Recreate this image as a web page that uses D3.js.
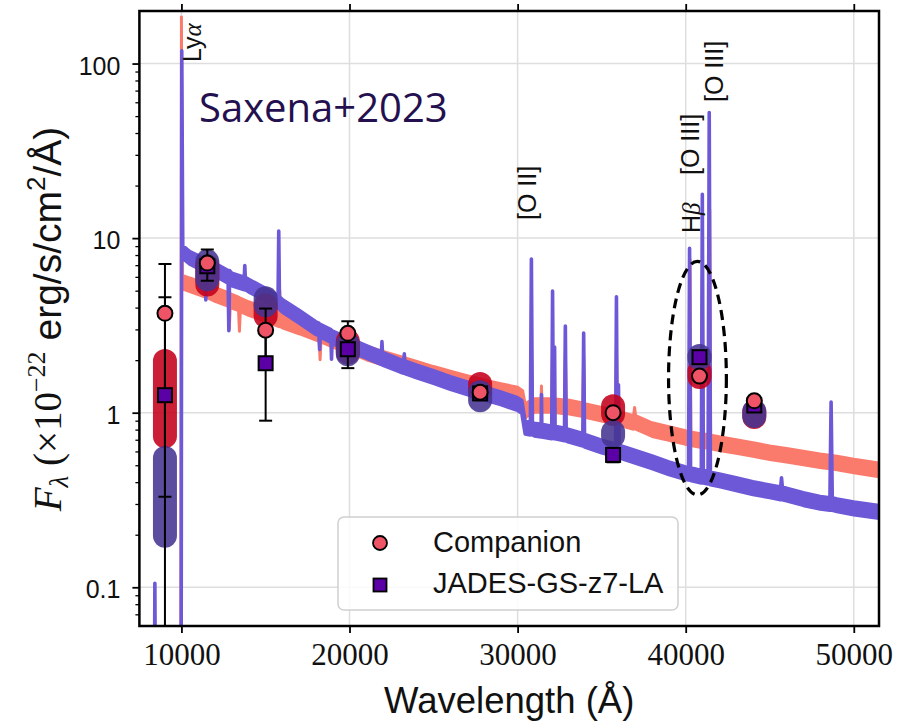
<!DOCTYPE html>
<html><head><meta charset="utf-8">
<script src="https://cdn.jsdelivr.net/npm/d3@7"></script>
<style>body{margin:0;background:#fff;} svg{display:block;}</style>
</head><body>
<script>
// ---------------- DATA ----------------
const companionWave = [7500,9960,10000,10060,10500,11000,11500,12000,12800,12850,12900,13000,13400,13450,13500,14000,15000,15800,15850,15900,16000,17000,18000,18200,18250,18300,19000,20000,21000,22000,23000,24000,25000,26000,27000,28000,29000,30000,30300,30450,30600,30770,30820,30870,31000,31400,31420,31440,32030,32080,32130,32790,32840,32890,33000,33880,33930,33980,34000,35000,35830,35880,35930,36000,36900,36960,37020,37500,38000,39000,40000,40210,40260,40310,40940,40990,41040,41370,41430,41490,42000,43000,44000,45000,46000,47000,48000,49000,50000,51500];
const companionFlux = [0.01,0.01,169,5.6,5.4,5.2,5.0,4.75,4.45,3.3,4.4,4.35,4.2,3.2,4.15,3.95,3.65,3.4,4.6,3.4,3.35,3.1,2.85,2.8,2.2,2.78,2.6,2.4,2.2,2.05,1.92,1.8,1.68,1.58,1.49,1.41,1.34,1.28,1.22,1.02,1.05,1.07,2.44,1.07,1.1,1.1,1.3,1.1,1.1,2.1,1.1,1.08,2.0,1.08,1.08,1.04,1.9,1.04,1.03,0.98,0.94,2.2,0.94,0.93,0.88,0.98,0.88,0.84,0.80,0.76,0.72,0.715,6.9,0.71,0.69,5.5,0.69,0.685,13.3,0.68,0.665,0.64,0.615,0.59,0.57,0.55,0.53,0.515,0.495,0.47];

const jadesWave = [7500,8380,8420,8470,9980,10020,10080,10300,10500,11000,11420,11450,11480,12000,12780,12820,12860,13000,13740,13770,13800,14000,15000,15750,15790,15830,16000,17000,18000,18180,18220,18260,18900,18930,18960,19000,20000,21000,21900,21930,21960,22000,23000,23230,23260,23290,24000,25000,26000,27000,28000,29000,30000,30250,30450,30760,30820,30880,31000,31400,31420,31440,32030,32080,32130,32170,32200,32230,32790,32840,32890,33000,33880,33930,33980,34000,35000,35830,35880,35930,35960,36000,36040,37000,38000,39000,40000,40170,40230,40290,40930,40990,41050,41330,41400,41470,42000,43000,44000,45000,45650,45700,45750,46000,47000,48000,48580,48650,48720,49000,50000,51500];
const jadesFlux = [0.01,0.01,0.097,0.01,0.01,109,8.3,8.0,7.7,7.3,6.9,4.8,6.9,6.6,6.0,3.2,6.0,5.8,5.5,6.4,5.5,5.35,4.75,4.3,10.1,4.25,4.1,3.55,3.05,3.0,2.5,2.95,2.75,2.2,2.72,2.7,2.45,2.23,2.05,2.35,2.04,2.03,1.86,1.83,2.0,1.82,1.72,1.6,1.48,1.38,1.29,1.21,1.12,1.08,0.82,0.81,6.98,0.81,0.80,0.79,1.17,0.79,0.77,4.58,0.77,0.77,2.19,0.77,0.75,2.89,0.75,0.74,0.70,2.63,0.70,0.69,0.64,0.61,4.24,0.61,0.60,1.33,0.60,0.56,0.52,0.48,0.45,0.447,8.05,0.445,0.43,16.4,0.43,0.425,48.3,0.42,0.41,0.39,0.37,0.355,0.345,0.39,0.345,0.34,0.32,0.305,0.30,1.06,0.30,0.295,0.283,0.27];

const filterWave = [9020,11540,15010,19900,27770,35680,40820,44080];
const companionPhot  = [3.71,7.2,2.97,2.85,1.31,1.0,1.62,1.17];
const companionErrLo = [0.01,5.7,1.92,2.31,1.28,0.97,1.58,1.14];
const companionErrHi = [7.1,8.6,3.95,3.34,1.34,1.03,1.66,1.2];
const jadesPhot  = [1.26,6.9,1.92,2.31,1.29,0.573,2.08,1.1];
const jadesErrLo = [0.33,6.6,0.9,1.8,1.25,0.52,2.03,1.07];
const jadesErrHi = [4.58,7.2,3.0,2.85,1.33,0.6,2.13,1.13];

const companionModelLo = [0.732,5.42,3.57,2.22,1.35,0.983,1.60,0.945];
const companionModelHi = [1.975,6.89,4.12,2.57,1.46,1.09,1.73,1.01];
const jadesModelLo = [0.197,5.81,4.12,2.16,1.18,0.736,2.05,0.957];
const jadesModelHi = [0.551,7.36,4.52,2.47,1.31,0.776,2.11,1.02];

const xTicks = [10000,20000,30000,40000,50000];
const yTicks = [0.1,1,10,100];
const lineLabelText = ["Lyα","[O II]","Hβ","[O III]","[O III]"];
const lineLabelWave = [11150,31100,40850,40780,42230];
const lineLabelBase = [62,220,233,175,102];
const seriesNames = ["Companion","JADES-GS-z7-LA"];
const ellipseWave = 40700, ellipseHalfWidth = 1720, ellipseTop = 7.36, ellipseBottom = 0.338;

// ---------------- LAYOUT ----------------
const W=907,H=725;
const L=139.4,R=879,T=11,B=626;
const cSalmon="#fa7b6c", cPurple="#6d58d7", cRed="#c4001c", cNavy="#463592";
const cCircle="#ef5366", cSquare="#5a00a6";

const svg=d3.select("body").append("svg").attr("width",W).attr("height",H)
  .style("font-family","'Liberation Sans', Arial, sans-serif");

const x=d3.scaleLinear().domain([7500,51500]).range([L,R]);
const y=d3.scaleLog().domain([0.06,200]).range([B,T]);

svg.append("defs").append("clipPath").attr("id","clip")
  .append("rect").attr("x",L).attr("y",T).attr("width",R-L).attr("height",B-T);

// grid
const grid=svg.append("g").attr("stroke","#dedede").attr("stroke-width",1.5);
grid.selectAll("line.v").data(xTicks).join("line").attr("class","v")
  .attr("x1",d=>x(d)).attr("x2",d=>x(d)).attr("y1",T).attr("y2",B);
grid.selectAll("line.h").data(yTicks).join("line").attr("class","h")
  .attr("x1",L).attr("x2",R).attr("y1",d=>y(d)).attr("y2",d=>y(d));

const plot=svg.append("g").attr("clip-path","url(#clip)");

function band(wave,flux,half){
  const pts=wave.map((w,i)=>[w,flux[i]]);
  return d3.area().x(d=>x(d[0])).y0(d=>y(d[1])+half).y1(d=>y(d[1])-half)(pts);
}
plot.append("path").attr("d",band(companionWave,companionFlux,6.8))
  .attr("fill",cSalmon).attr("stroke",cSalmon).attr("stroke-width",3).attr("stroke-linejoin","round");
plot.append("path").attr("d",band(jadesWave,jadesFlux,6.3))
  .attr("fill",cPurple).attr("stroke",cPurple).attr("stroke-width",3.6).attr("stroke-linejoin","round");

// dashed ellipse
plot.append("ellipse")
  .attr("cx",x(ellipseWave))
  .attr("cy",(y(ellipseTop)+y(ellipseBottom))/2)
  .attr("rx",x(ellipseWave+ellipseHalfWidth)-x(ellipseWave))
  .attr("ry",(y(ellipseBottom)-y(ellipseTop))/2)
  .attr("fill","none").attr("stroke","#000").attr("stroke-width",3.2).attr("stroke-dasharray","10,6");

// model photometry blobs
function blobs(lo,hi,col){
  plot.append("g").selectAll("line").data(filterWave).join("line")
    .attr("x1",d=>x(d)).attr("x2",d=>x(d))
    .attr("y1",(d,i)=>y(hi[i])).attr("y2",(d,i)=>y(lo[i]))
    .attr("stroke",col).attr("stroke-width",24).attr("stroke-linecap","round").attr("opacity",0.88);
}
blobs(companionModelLo,companionModelHi,cRed);
blobs(jadesModelLo,jadesModelHi,cNavy);

// error bars
function errs(lo,hi){
  const g=plot.append("g").attr("stroke","#000").attr("stroke-width",2);
  g.selectAll("line.e").data(filterWave).join("line").attr("class","e")
    .attr("x1",d=>x(d)).attr("x2",d=>x(d))
    .attr("y1",(d,i)=>y(hi[i])).attr("y2",(d,i)=>y(lo[i]));
  g.selectAll("line.c1").data(filterWave).join("line").attr("class","c1")
    .attr("x1",d=>x(d)-6.5).attr("x2",d=>x(d)+6.5)
    .attr("y1",(d,i)=>y(hi[i])).attr("y2",(d,i)=>y(hi[i]));
  g.selectAll("line.c2").data(filterWave).join("line").attr("class","c2")
    .attr("x1",d=>x(d)-6.5).attr("x2",d=>x(d)+6.5)
    .attr("y1",(d,i)=>y(lo[i])).attr("y2",(d,i)=>y(lo[i]));
}
errs(companionErrLo,companionErrHi);
errs(jadesErrLo,jadesErrHi);

// markers
plot.append("g").selectAll("rect").data(filterWave).join("rect")
  .attr("x",d=>x(d)-7).attr("y",(d,i)=>y(jadesPhot[i])-7).attr("width",14).attr("height",14)
  .attr("fill",cSquare).attr("stroke","#000").attr("stroke-width",2);
plot.append("g").selectAll("circle").data(filterWave).join("circle")
  .attr("cx",d=>x(d)).attr("cy",(d,i)=>y(companionPhot[i])).attr("r",7.5)
  .attr("fill",cCircle).attr("stroke","#000").attr("stroke-width",2);

// line labels
svg.append("g").selectAll("text").data(lineLabelText).join("text")
  .attr("transform",(d,i)=>`translate(${x(lineLabelWave[i])},${lineLabelBase[i]}) rotate(-90)`)
  .attr("font-size",25).attr("fill","#111")
  .each(function(d){
    const t=d3.select(this);
    const greek=d.match(/[αβ]/);
    if(greek){
      t.append("tspan").text(d.replace(/[αβ]/,""));
      t.append("tspan").text(greek[0]).attr("font-family","'Liberation Serif', serif").attr("font-style","italic");
    } else t.text(d);
  });

// Saxena label
svg.append("text").attr("x",199).attr("y",122).attr("font-family","'Open Sans', sans-serif")
  .attr("font-size",40).attr("fill","#24104f").text("Saxena+2023");

// frame
svg.append("rect").attr("x",L).attr("y",T).attr("width",R-L).attr("height",B-T)
  .attr("fill","none").attr("stroke","#000").attr("stroke-width",2.5);

// axes
const xAx=svg.append("g").attr("transform",`translate(0,${B})`)
  .call(d3.axisBottom(x).tickValues(xTicks).tickSize(7).tickFormat(d3.format("d")));
xAx.select(".domain").remove();
xAx.selectAll("line").attr("stroke-width",1.8);
xAx.selectAll("text").attr("y",39).attr("dy",0).attr("font-size",31)
  .attr("font-family","'Liberation Serif', serif").attr("fill","#111");

const xTop=svg.append("g").attr("transform",`translate(0,${T})`)
  .call(d3.axisTop(x).tickValues(xTicks).tickSize(7).tickFormat(""));
xTop.select(".domain").remove();
xTop.selectAll("line").attr("stroke-width",1.8);

const minor=[];
[0.01,0.1,1,10,100].forEach(b=>{for(let k=2;k<=9;k++){const v=b*k; if(v>0.06&&v<200) minor.push(v);}});
const yMin=svg.append("g").attr("transform",`translate(${L},0)`)
  .call(d3.axisLeft(y).tickValues(minor).tickSize(4).tickFormat(""));
yMin.select(".domain").remove();
yMin.selectAll("line").attr("stroke-width",1.3);

const yAx=svg.append("g").attr("transform",`translate(${L},0)`)
  .call(d3.axisLeft(y).tickValues(yTicks).tickSize(7).tickPadding(12).tickFormat(d=>String(d)));
yAx.select(".domain").remove();
yAx.selectAll("line").attr("stroke-width",1.8);
yAx.selectAll("text").attr("font-size",25).attr("dy","0.42em").attr("fill","#111")
  .attr("font-family","'Liberation Sans', Arial, sans-serif");

// axis titles
svg.append("text").attr("x",(L+R)/2).attr("y",713).attr("text-anchor","middle")
  .attr("font-size",36.5).attr("fill","#111").text("Wavelength (Å)");

const yl=svg.append("text").attr("transform","translate(61,319) rotate(-90)")
  .attr("text-anchor","middle").attr("font-size",39).attr("fill","#111");
yl.append("tspan").attr("font-family","'Liberation Serif', serif").attr("font-style","italic").text("F");
yl.append("tspan").attr("font-family","'Liberation Serif', serif").attr("font-style","italic").attr("font-size",27).attr("dy",7).text("λ");
yl.append("tspan").attr("dy",-7).attr("font-family","'Liberation Serif', serif").text(" (×10");
yl.append("tspan").attr("font-family","'Liberation Serif', serif").attr("font-size",26).attr("dy",-16).text("−22");
yl.append("tspan").attr("dy",16).text(" erg/s/cm");
yl.append("tspan").attr("font-size",26).attr("dy",-16).text("2");
yl.append("tspan").attr("dy",16).text("/Å)");

// legend
const lg=svg.append("g");
lg.append("rect").attr("x",338).attr("y",517).attr("width",340).attr("height",93).attr("rx",6)
  .attr("fill","#fff").attr("fill-opacity",0.85).attr("stroke","#d0d0d0").attr("stroke-width",1.5);
lg.append("circle").attr("cx",380).attr("cy",543).attr("r",7).attr("fill",cCircle).attr("stroke","#000").attr("stroke-width",1.8);
lg.append("rect").attr("x",373.5).attr("y",578.5).attr("width",13).attr("height",13).attr("fill",cSquare).attr("stroke","#000").attr("stroke-width",1.8);
lg.selectAll("text").data(seriesNames).join("text")
  .attr("x",433).attr("y",(d,i)=>552+i*41).attr("font-size",29).attr("fill","#111").text(d=>d);
</script>
</body></html>
